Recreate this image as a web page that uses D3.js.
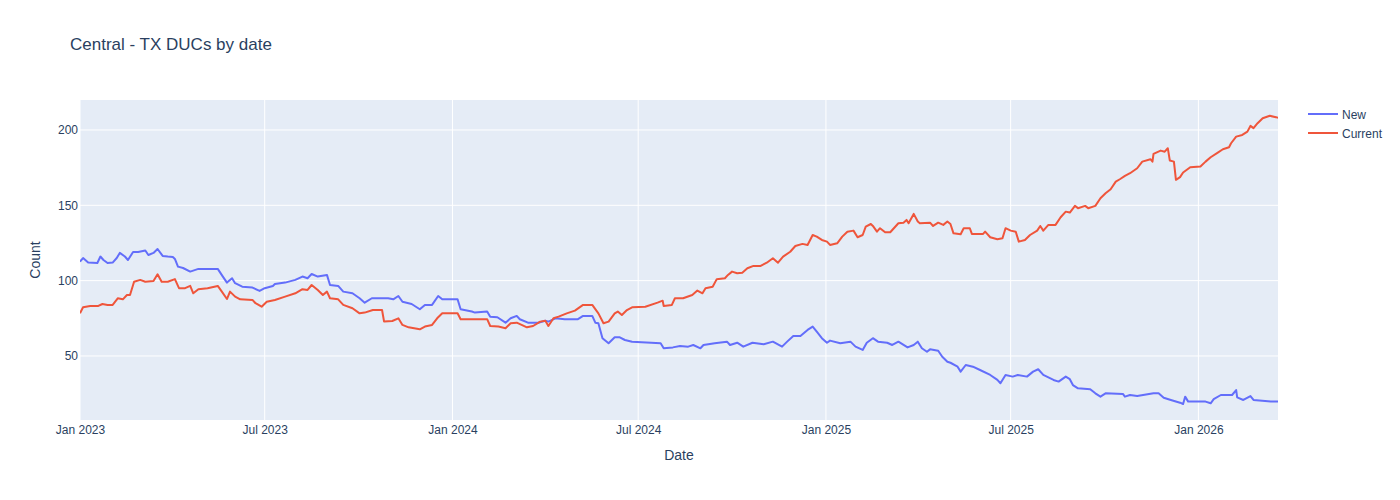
<!DOCTYPE html>
<html><head><meta charset="utf-8">
<script src="https://cdn.jsdelivr.net/npm/d3@7"></script>
<style>body{margin:0;background:#fff;} text{font-family:"Liberation Sans",Arial,sans-serif;}</style>
</head><body><svg id="c" width="1400" height="500"></svg>
<script>
const title = "Central - TX DUCs by date";
const seriesNames = ["New", "Current"];
const seriesColors = ["#636efa", "#EF553B"];
const xTickDates = ["2023-01-01","2023-07-01","2024-01-01","2024-07-01","2025-01-01","2025-07-01","2026-01-01"];
const yTicks = [50, 100, 150, 200];

const newDates = ["2023-01-01","2023-01-04","2023-01-09","2023-01-18","2023-01-21","2023-01-24","2023-01-28","2023-02-02","2023-02-06","2023-02-09","2023-02-14","2023-02-17","2023-02-22","2023-02-27","2023-03-06","2023-03-09","2023-03-14","2023-03-18","2023-03-23","2023-03-28","2023-04-02","2023-04-04","2023-04-07","2023-04-12","2023-04-19","2023-04-27","2023-05-04","2023-05-16","2023-05-21","2023-05-25","2023-05-30","2023-06-02","2023-06-09","2023-06-19","2023-06-26","2023-07-01","2023-07-09","2023-07-11","2023-07-21","2023-07-31","2023-08-07","2023-08-12","2023-08-16","2023-08-22","2023-08-31","2023-09-03","2023-09-11","2023-09-16","2023-09-25","2023-10-02","2023-10-07","2023-10-14","2023-10-30","2023-11-04","2023-11-09","2023-11-13","2023-11-22","2023-11-30","2023-12-05","2023-12-12","2023-12-18","2023-12-22","2024-01-06","2024-01-09","2024-01-20","2024-01-23","2024-02-04","2024-02-07","2024-02-14","2024-02-22","2024-02-27","2024-03-04","2024-03-07","2024-03-15","2024-03-25","2024-04-01","2024-04-04","2024-04-11","2024-04-20","2024-05-03","2024-05-08","2024-05-17","2024-05-20","2024-05-23","2024-05-27","2024-06-02","2024-06-08","2024-06-13","2024-06-18","2024-06-25","2024-07-23","2024-07-26","2024-08-04","2024-08-11","2024-08-19","2024-08-24","2024-08-31","2024-09-03","2024-09-14","2024-09-26","2024-09-29","2024-10-06","2024-10-12","2024-10-21","2024-11-01","2024-11-10","2024-11-19","2024-11-24","2024-11-30","2024-12-07","2024-12-14","2024-12-19","2024-12-23","2024-12-28","2025-01-02","2025-01-05","2025-01-15","2025-01-25","2025-01-30","2025-02-06","2025-02-10","2025-02-16","2025-02-21","2025-03-02","2025-03-07","2025-03-13","2025-03-22","2025-03-28","2025-04-01","2025-04-05","2025-04-10","2025-04-13","2025-04-21","2025-04-25","2025-04-30","2025-05-03","2025-05-10","2025-05-13","2025-05-18","2025-05-25","2025-06-01","2025-06-11","2025-06-18","2025-06-21","2025-06-26","2025-07-03","2025-07-08","2025-07-17","2025-07-23","2025-07-28","2025-08-02","2025-08-12","2025-08-17","2025-08-24","2025-08-28","2025-08-31","2025-09-05","2025-09-17","2025-09-22","2025-09-27","2025-10-02","2025-10-19","2025-10-21","2025-10-26","2025-11-02","2025-11-18","2025-11-23","2025-11-28","2025-12-05","2025-12-14","2025-12-17","2025-12-19","2025-12-22","2026-01-08","2026-01-13","2026-01-16","2026-01-23","2026-02-03","2026-02-07","2026-02-08","2026-02-14","2026-02-21","2026-02-24","2026-03-13","2026-03-20"];
const newValues = [112.6,115,112,111.7,116,113.7,111.7,112,115,118.4,116,113.7,119,119,120,117,118.4,121,116.4,116,115.7,114.4,109.3,108.4,106,107.8,107.8,107.8,102.7,98.7,101.6,98.3,96,95.4,93.2,95,96.5,97.8,98.7,100.5,102.7,101.6,104.4,102.7,103.8,97.1,96.5,92.7,91.6,88.3,85.4,88.3,88.3,87.6,89.8,86,84.5,81,83.9,83.9,89.8,87.6,87.6,81,79.5,78.8,79.5,76.1,75.7,72.1,75,76.6,74.4,72.1,72.1,73.4,72.8,75,74.4,74.4,76.6,76.6,72.1,71.7,61.8,58.4,62.4,62.4,60.6,59.5,58.4,55.1,55.7,56.6,56.2,57.3,55.1,57.3,58.4,59.5,57.3,58.8,56.2,58.8,57.8,59.5,56.2,59.5,63.3,63.3,67.3,69.5,66.1,61.8,58.8,60.2,58.4,59.5,56.2,54,58.8,61.8,59.5,58.8,57.3,59.5,55.7,57.3,59.5,55.1,52.8,54.4,53.5,49.5,46.2,45.5,42.9,39.6,44,42.9,40.7,37.4,34.1,31.9,37.4,36.3,37.4,36.3,39.6,41.2,37.4,34.1,33,36.3,34.6,30.7,28.5,27.9,25.2,23,25.2,24.8,23,24.1,23.4,25.2,25.2,22.3,20.8,19,18.1,23,19.7,19.7,18.6,21.3,24.1,24.1,27.4,22.5,20.8,23.4,20.8,19.7,19.7];

const currentDates = ["2023-01-01","2023-01-04","2023-01-11","2023-01-19","2023-01-23","2023-01-28","2023-02-02","2023-02-07","2023-02-12","2023-02-16","2023-02-19","2023-02-23","2023-03-01","2023-03-06","2023-03-14","2023-03-18","2023-03-22","2023-03-28","2023-04-04","2023-04-08","2023-04-14","2023-04-19","2023-04-22","2023-04-27","2023-05-06","2023-05-16","2023-05-20","2023-05-25","2023-05-28","2023-06-02","2023-06-07","2023-06-19","2023-06-22","2023-06-28","2023-07-03","2023-07-11","2023-07-21","2023-07-31","2023-08-07","2023-08-12","2023-08-16","2023-08-22","2023-08-27","2023-08-31","2023-09-03","2023-09-11","2023-09-16","2023-09-25","2023-10-02","2023-10-07","2023-10-15","2023-10-24","2023-10-26","2023-11-03","2023-11-09","2023-11-13","2023-11-19","2023-11-30","2023-12-05","2023-12-12","2023-12-17","2023-12-22","2024-01-06","2024-01-09","2024-01-20","2024-02-04","2024-02-07","2024-02-15","2024-02-22","2024-02-27","2024-03-04","2024-03-14","2024-03-20","2024-03-27","2024-04-01","2024-04-04","2024-04-09","2024-04-14","2024-04-22","2024-04-30","2024-05-08","2024-05-17","2024-05-23","2024-05-28","2024-06-02","2024-06-08","2024-06-11","2024-06-15","2024-06-20","2024-06-25","2024-07-08","2024-07-20","2024-07-25","2024-07-26","2024-08-03","2024-08-06","2024-08-14","2024-08-23","2024-08-28","2024-09-02","2024-09-05","2024-09-12","2024-09-16","2024-09-24","2024-09-27","2024-10-01","2024-10-06","2024-10-11","2024-10-16","2024-10-22","2024-10-29","2024-11-04","2024-11-10","2024-11-15","2024-11-20","2024-11-27","2024-12-02","2024-12-09","2024-12-14","2024-12-19","2024-12-23","2024-12-28","2025-01-02","2025-01-05","2025-01-12","2025-01-17","2025-01-22","2025-01-28","2025-02-01","2025-02-06","2025-02-09","2025-02-14","2025-02-16","2025-02-20","2025-02-23","2025-02-28","2025-03-05","2025-03-13","2025-03-18","2025-03-21","2025-03-23","2025-03-28","2025-04-01","2025-04-03","2025-04-13","2025-04-16","2025-04-21","2025-04-26","2025-04-30","2025-05-03","2025-05-06","2025-05-13","2025-05-16","2025-05-22","2025-05-24","2025-06-04","2025-06-06","2025-06-11","2025-06-18","2025-06-23","2025-06-26","2025-07-01","2025-07-06","2025-07-09","2025-07-15","2025-07-20","2025-07-27","2025-07-30","2025-08-02","2025-08-07","2025-08-14","2025-08-19","2025-08-24","2025-08-28","2025-09-02","2025-09-05","2025-09-12","2025-09-15","2025-09-22","2025-09-27","2025-10-02","2025-10-07","2025-10-12","2025-10-16","2025-10-21","2025-10-26","2025-11-02","2025-11-07","2025-11-15","2025-11-17","2025-11-18","2025-11-25","2025-11-29","2025-12-02","2025-12-04","2025-12-08","2025-12-10","2025-12-14","2025-12-17","2025-12-24","2026-01-03","2026-01-08","2026-01-13","2026-01-20","2026-01-25","2026-01-31","2026-02-02","2026-02-07","2026-02-13","2026-02-18","2026-02-21","2026-02-24","2026-02-28","2026-03-05","2026-03-12","2026-03-18","2026-03-20"];
const currentValues = [78.3,82.3,83.2,83.2,84.5,83.9,83.9,88.3,87.6,90.5,90.5,99.3,100.5,99.3,99.8,104.2,99.3,99.3,101,95,95,96.5,91.6,94.3,95,96.5,92.7,87.8,92.7,89.4,87.6,87.2,85,82.7,86,87.2,89.4,91.6,94.3,93.8,97.1,93.8,90.5,92.7,88.3,87.6,83.9,81.7,78.3,78.8,80.5,80.5,72.8,73.2,75,70.6,69,67.7,69.5,70.6,75,78.3,78.3,74.4,74.4,74.4,69.9,69.5,68.4,71.7,72.1,69,69.9,72.8,73.4,69.9,75,76.1,78.3,80.1,83.9,83.9,78.3,71.7,72.8,78.3,79.5,77.2,80.5,82.3,82.7,85.4,86.7,83.2,83.9,88.3,88.3,90.5,93.4,91.6,95,96,101,101.6,103.8,106,104.9,105.3,108.2,109.8,109.8,111.9,114.9,111.9,115.9,119.2,123,124.4,123.7,130.3,129.2,127,125.9,123.7,124.8,129.2,132.5,133.2,128.8,130.3,135.8,137.6,136.3,132.5,134.8,132.1,132.1,138.1,138.5,140.3,138.1,144.3,139.2,138.1,138.5,136.3,138.5,137,139.2,137.6,131.4,130.8,134.8,134.8,131,131,132.5,128.8,127.5,128.1,134.8,133.2,132.5,125.9,127,130.3,133.2,136.3,133.2,137,137,142.1,145.8,145.2,149.6,148.1,149.6,148.1,149.6,154.7,158,160.7,165.7,167.3,169.5,171.3,174.6,179,180.6,179,184.1,186.3,185.6,187.9,179.7,179,166.9,168.7,171.8,175.3,175.8,179,181.9,185,187.2,188.5,191.2,195.6,196.7,198.9,202.7,201.2,204.5,207.8,209.4,208.5,208];

const parse = d3.timeParse("%Y-%m-%d");
const series = [
  {name: seriesNames[0], color: seriesColors[0], pts: newDates.map((d,i)=>({x: parse(d), y: newValues[i]}))},
  {name: seriesNames[1], color: seriesColors[1], pts: currentDates.map((d,i)=>({x: parse(d), y: currentValues[i]}))}
];

const svg = d3.select("#c");
const L = 80, T = 100, R = 1278, B = 420;
const txt = "#2a3f5f";

const x = d3.scaleTime().domain([parse("2023-01-01"), parse("2026-03-20")]).range([L, R]);
const y = d3.scaleLinear().domain([7.5, 219.9]).range([B, T]);

svg.append("rect").attr("x", L).attr("y", T).attr("width", R-L).attr("height", B-T).attr("fill", "#E5ECF6");

const xTicks = xTickDates.map(parse);
const gx = svg.append("g").attr("transform", `translate(0,${B})`)
  .call(d3.axisBottom(x).tickValues(xTicks).tickFormat(d3.timeFormat("%b %Y")).tickSize(0).tickPadding(5));
gx.select(".domain").remove();
gx.selectAll("text").attr("fill", txt).style("font-size", "12px");

const gy = svg.append("g").attr("transform", `translate(${L},0)`)
  .call(d3.axisLeft(y).tickValues(yTicks).tickSize(0).tickPadding(2));
gy.select(".domain").remove();
gy.selectAll("text").attr("fill", txt).style("font-size", "12px");

const grid = svg.append("g");
grid.selectAll(".gx").data(xTicks).join("line")
  .attr("x1", d=>x(d)).attr("x2", d=>x(d)).attr("y1", T).attr("y2", B)
  .attr("stroke", "#fff").attr("stroke-width", 1);
grid.selectAll(".gy").data(yTicks).join("line")
  .attr("x1", L).attr("x2", R).attr("y1", d=>y(d)).attr("y2", d=>y(d))
  .attr("stroke", "#fff").attr("stroke-width", 1);

svg.append("clipPath").attr("id", "clp").append("rect")
  .attr("x", L).attr("y", T).attr("width", R-L).attr("height", B-T);

const line = d3.line().x(d=>x(d.x)).y(d=>y(d.y));
svg.append("g").attr("clip-path", "url(#clp)").selectAll("path").data(series).join("path")
  .attr("d", d=>line(d.pts)).attr("fill", "none").attr("stroke", d=>d.color)
  .attr("stroke-width", 2).attr("stroke-linejoin", "round");

svg.append("text").attr("x", 70).attr("y", 50).text(title)
  .attr("fill", txt).style("font-size", "17px");
svg.append("text").attr("x", (L+R)/2).attr("y", 460).attr("text-anchor", "middle")
  .text("Date").attr("fill", txt).style("font-size", "14px");
svg.append("text").attr("transform", `translate(40,${(T+B)/2}) rotate(-90)`).attr("text-anchor", "middle")
  .text("Count").attr("fill", txt).style("font-size", "14px");

const lg = svg.append("g");
series.forEach((s,i)=>{
  const yy = 114 + i*19;
  lg.append("line").attr("x1", 1308).attr("x2", 1338).attr("y1", yy).attr("y2", yy)
    .attr("stroke", s.color).attr("stroke-width", 2);
  lg.append("text").attr("x", 1342).attr("y", yy+4.5).text(s.name)
    .attr("fill", txt).style("font-size", "12px");
});
</script>
</body></html>
